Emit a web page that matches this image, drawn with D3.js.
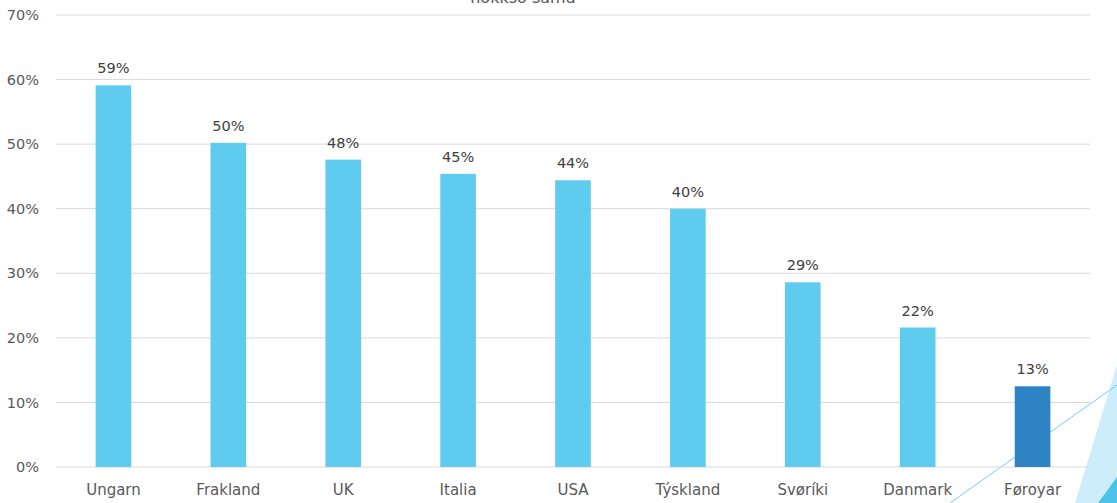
<!DOCTYPE html>
<html>
<head>
  <script src="https://d3js.org/d3.v7.min.js"></script>
  <style>
    body { margin: 0; background: #fff; }
    svg { display: block; }
  </style>
</head>
<body>
<svg id="mainSvg" width="1117" height="503"></svg>

<script>
    // chart data
    var countries = ["Ungarn", "Frakland", "UK", "Italia", "USA", "Týskland", "Svøríki", "Danmark", "Føroyar"];
    var shares = [0.591, 0.502, 0.476, 0.454, 0.444, 0.400, 0.286, 0.216, 0.125];
    var yTicks = [0, 0.1, 0.2, 0.3, 0.4, 0.5, 0.6, 0.7];
    var highlight = "Føroyar";

    var svg = d3.select("#mainSvg");
    var font = "DejaVu Sans, Verdana, sans-serif";

    var x = d3.scaleBand()
        .domain(countries)
        .range([56, 1090])
        .paddingInner(0.69)
        .paddingOuter(0.345);

    var y = d3.scaleLinear()
        .domain([0, 0.7])
        .range([467, 15]);

    // slide decoration, bottom right (behind the chart)
    var deco = svg.append("g");
    deco.append("polygon")
        .attr("points", "1075,503 1117,365 1117,503")
        .attr("fill", "#c9ebf9")
        .attr("opacity", 0.9);
    deco.append("polygon")
        .attr("points", "1098,503 1117,477 1117,503")
        .attr("fill", "#4dc3e8");
    deco.append("line")
        .attr("x1", 950).attr("y1", 503)
        .attr("x2", 1117).attr("y2", 385)
        .attr("stroke", "#74cdf0")
        .attr("stroke-width", 1);

    // title (cut off at top, as on the slide)
    svg.append("text")
        .attr("x", 523).attr("y", 3)
        .attr("text-anchor", "middle")
        .attr("font-family", font)
        .attr("font-size", 16)
        .attr("fill", "#595959")
        .text("nokkso samd");

    // gridlines
    svg.append("g").selectAll("line")
        .data(yTicks)
        .enter()
        .append("line")
        .attr("x1", 56).attr("x2", 1090)
        .attr("y1", d => y(d)).attr("y2", d => y(d))
        .attr("stroke", "#d9d9d9")
        .attr("stroke-width", 1);

    // y axis labels
    var yAxis = d3.axisLeft(y).tickValues(yTicks).tickFormat(d3.format(".0%")).tickSize(0).tickPadding(0);
    svg.append("g")
        .attr("transform", "translate(39,0)")
        .call(yAxis)
        .call(g => g.select(".domain").remove())
        .selectAll("text")
        .attr("font-family", font)
        .attr("font-size", 14.5)
        .attr("fill", "#595959");

    // bars
    svg.append("g").selectAll("rect")
        .data(countries)
        .enter()
        .append("rect")
        .attr("x", d => x(d))
        .attr("width", x.bandwidth())
        .attr("y", (d, i) => y(shares[i]))
        .attr("height", (d, i) => y(0) - y(shares[i]))
        .attr("fill", d => d == highlight ? "#2e83c4" : "#5ecbef");

    // value labels
    svg.append("g").selectAll("text")
        .data(countries)
        .enter()
        .append("text")
        .attr("x", d => x(d) + x.bandwidth() / 2)
        .attr("y", (d, i) => y(shares[i]) - 12)
        .attr("text-anchor", "middle")
        .attr("font-family", font)
        .attr("font-size", 14.5)
        .attr("fill", "#404040")
        .text((d, i) => d3.format(".0%")(shares[i]));

    // x axis labels
    var xAxis = d3.axisBottom(x).tickSize(0).tickPadding(0);
    svg.append("g")
        .attr("transform", "translate(0,490)")
        .call(xAxis)
        .call(g => g.select(".domain").remove())
        .selectAll("text")
        .attr("dy", "0.35em")
        .attr("font-family", font)
        .attr("font-size", 15)
        .attr("fill", "#595959");
</script>
</body>
</html>
